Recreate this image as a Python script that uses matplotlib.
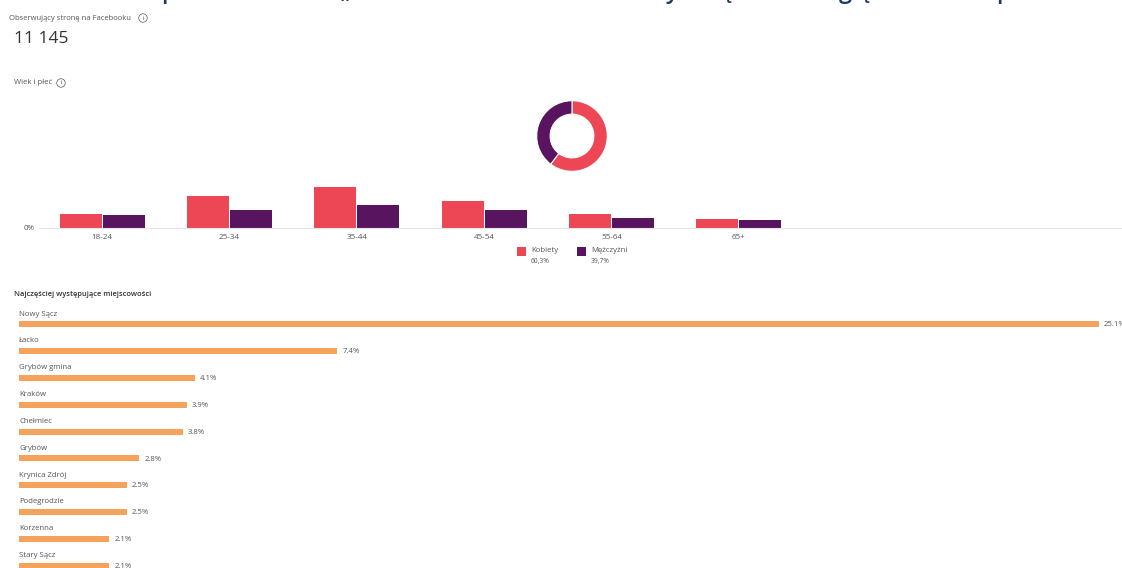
import matplotlib
matplotlib.use("Agg")
import matplotlib.pyplot as plt
from matplotlib.patches import FancyBboxPatch

W, H = 1122, 568

age_groups = ["18-24", "25-34", "35-44", "45-54", "55-64", "65+"]
women = [6.0, 14.3, 17.9, 12.1, 6.0, 3.8]
men = [5.6, 8.1, 10.1, 8.1, 4.5, 3.4]
gender_names = ["Kobiety", "Mężczyźni"]
gender_share = [60.3, 39.7]

cities = ["Nowy Sącz", "Łacko", "Grybów gmina", "Kraków", "Chełmiec", "Grybów",
          "Krynica Zdrój", "Podegrodzie", "Korzenna", "Stary Sącz"]
city_share = [25.1, 7.4, 4.1, 3.9, 3.8, 2.8, 2.5, 2.5, 2.1, 2.1]

# the headline is cut off by the top edge, only these descenders can be read
title_tails = ["p", "„", "y", "ę", "g", "ę", "p"]
title_tail_x = [168, 346, 672, 727, 845, 865, 1003]

RED = "#ed4655"
PURPLE = "#59145f"
ORANGE = "#f5a35c"
GREY = "#555555"

plt.rcParams["font.family"] = ["Open Sans", "DejaVu Sans"]


def px_axes(fig, x0, y0, x1, y1):
    # rectangle given in picture pixels, y going down
    return fig.add_axes([x0 / W, 1 - y1 / H, (x1 - x0) / W, (y1 - y0) / H])


def px_text(fig, x, y, s, **kw):
    kw.setdefault("va", "center")
    kw.setdefault("color", GREY)
    fig.text(x / W, 1 - y / H, s, **kw)


def info_icon(fig, x, y):
    px_text(fig, x, y, "i", fontsize=4.2, ha="center", color="#444444",
            bbox=dict(boxstyle="circle,pad=0.3", fc="white", ec="#555555", lw=0.5))


fig = plt.figure(figsize=(W / 100, H / 100), dpi=100, facecolor="white")

for x, s in zip(title_tail_x, title_tails):
    px_text(fig, x, -2, s, fontsize=17, ha="center", va="baseline", color="#1f3864",
            fontweight="semibold")

px_text(fig, 9, 18, "Obserwujący stronę na Facebooku", fontsize=5.5)
info_icon(fig, 143, 18)
px_text(fig, 14, 39, "11 145", fontsize=12.5, color="#333333")
px_text(fig, 14, 83, "Wiek i płeć", fontsize=5.6)
info_icon(fig, 61, 83)

# donut
ax = px_axes(fig, 536, 100, 608, 172)
ax.pie(gender_share, colors=[RED, PURPLE], startangle=90, counterclock=False,
       radius=1, wedgeprops=dict(width=0.38, edgecolor="white", linewidth=0.8))
ax.set_xlim(-1.02, 1.02)
ax.set_ylim(-1.02, 1.02)

# age / gender bars
ax = px_axes(fig, 39, 170, 1122, 228)
ax.bar([i - 0.169 for i in range(6)], women, width=0.33, color=RED)
ax.bar([i + 0.169 for i in range(6)], men, width=0.33, color=PURPLE)
ax.set_xlim(-0.495, 8.01)
ax.set_ylim(0, 25.6)
ax.set_xticks(range(6), age_groups)
ax.set_yticks([0], ["0%"])
ax.tick_params(axis="x", length=0, labelsize=5.8, labelcolor=GREY, pad=4)
ax.tick_params(axis="y", length=0, labelsize=5.8, labelcolor=GREY, pad=3)
for s in ["top", "left", "right"]:
    ax.spines[s].set_visible(False)
ax.spines["bottom"].set_color("#e4e4e4")
ax.patch.set_alpha(0)

# legend
for x, c, name, share in zip([517, 577], [RED, PURPLE], gender_names, gender_share):
    fig.add_artist(FancyBboxPatch((x / W, 1 - 256 / H), 9 / W, 9 / H, boxstyle="square,pad=0",
                                  fc=c, ec="none", transform=fig.transFigure))
    px_text(fig, x + 14, 251, name, fontsize=5.6)
    px_text(fig, x + 14, 261, f"{share}%".replace(".", ","), fontsize=4.8)

px_text(fig, 14, 294, "Najczęściej występujące miejscowości", fontsize=5.4, color="#333333",
        fontweight="semibold")

# cities
ax = px_axes(fig, 19, 312, 1122, 568)
ys = list(range(len(cities)))
ax.barh(ys, city_share, height=0.224, color=ORANGE)
ax.set_xlim(0, 25.1 * 1103 / 1080)
ax.set_ylim(9.09, -0.459)
ax.axis("off")
for y, name, v in zip(ys, cities, city_share):
    ax.annotate(name, (0, y), xytext=(0, 7.3), textcoords="offset points", fontsize=5.6,
                color=GREY, va="center")
    ax.annotate(f"{v}%", (v, y), xytext=(3.5, -0.5), textcoords="offset points", fontsize=5.6,
                color=GREY, va="center", annotation_clip=False)

fig.savefig("out.png", dpi=100)
